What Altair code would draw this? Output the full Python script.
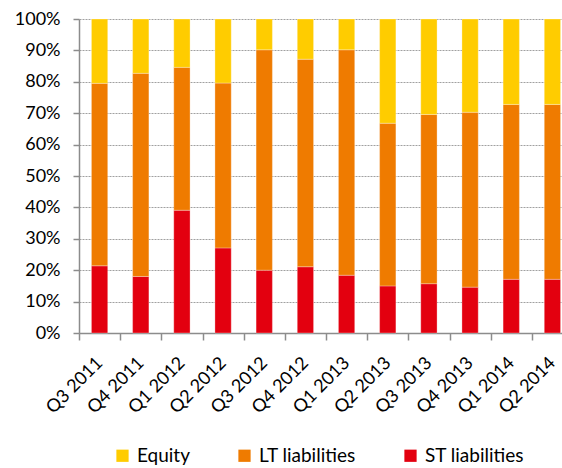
import altair as alt
import pandas as pd

quarters = ["Q3 2011", "Q4 2011", "Q1 2012", "Q2 2012", "Q3 2012", "Q4 2012",
            "Q1 2013", "Q2 2013", "Q3 2013", "Q4 2013", "Q1 2014", "Q2 2014"]
st_liab = [21.4, 18.0, 39.1, 27.1, 20.0, 21.1, 18.4, 15.0, 15.7, 14.6, 17.1, 17.1]
lt_liab = [58.1, 64.7, 45.5, 52.5, 70.2, 66.1, 71.8, 51.8, 53.9, 55.7, 55.7, 55.7]
equity = [20.5, 17.3, 15.4, 20.4, 9.8, 12.8, 9.8, 33.2, 30.4, 29.7, 27.2, 27.2]

series_names = ["Equity", "LT liabilities", "ST liabilities"]
series_colors = ["#FFCC00", "#EF7B00", "#E3000F"]
stack_rank = {"ST liabilities": 0, "LT liabilities": 1, "Equity": 2}

rows = []
for i, q in enumerate(quarters):
    for name, vals in (("ST liabilities", st_liab), ("LT liabilities", lt_liab), ("Equity", equity)):
        rows.append({"quarter": q, "series": name, "value": vals[i], "rank": stack_rank[name]})
df = pd.DataFrame(rows)

FONT = "Lato"

chart = alt.Chart(df).mark_bar(size=16.3, stroke="#ffffff", strokeWidth=0.6, strokeOpacity=0.5).encode(
    x=alt.X("quarter:N", sort=quarters,
            scale=alt.Scale(range=[0, 494], paddingInner=0, paddingOuter=0),
            axis=alt.Axis(title=None, labelAngle=-45, labelAlign="right", labelBaseline="middle",
                          labelPadding=20, tickBand="extent", tickSize=7, tickColor="#8c8c8c",
                          tickWidth=1.5, domainColor="#8c8c8c", domainWidth=1.5,
                          labelFont=FONT, labelFontSize=18, labelColor="#000000", grid=False)),
    y=alt.Y("value:Q", stack="normalize",
            scale=alt.Scale(domain=[0, 1], nice=False),
            axis=alt.Axis(title=None, format=".0%", values=[i / 10 for i in range(11)],
                          grid=True, gridDash=[2, 1], gridColor="#a0a0a0", gridWidth=1,
                          tickSize=6, tickColor="#8c8c8c", tickWidth=1.5,
                          domainColor="#8c8c8c", domainWidth=1.5, labelPadding=13,
                          labelFont=FONT, labelFontSize=18, labelColor="#000000")),
    color=alt.Color("series:N",
                    scale=alt.Scale(domain=series_names, range=series_colors),
                    legend=alt.Legend(orient="none", legendX=34, legendY=427, direction="horizontal",
                                      title=None, symbolType="square", symbolSize=150,
                                      symbolStrokeWidth=0, labelFont=FONT, labelFontSize=19,
                                      labelColor="#000000", columnPadding=45, labelOffset=5,
                                      padding=0)),
    order=alt.Order("rank:Q", sort="ascending"),
).properties(
    width=483, height=314,
    autosize=alt.AutoSizeParams(type="none"),
    padding={"left": 79, "top": 19, "right": 0, "bottom": 135},
).configure_view(stroke=None)

chart.save("out.html", embed_options={"renderer": "svg", "actions": False})
